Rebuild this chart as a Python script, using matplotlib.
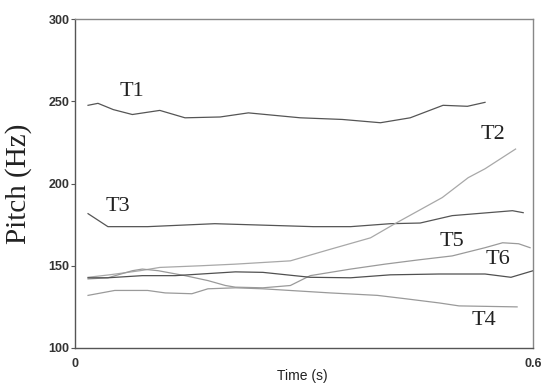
import matplotlib
matplotlib.use("Agg")
import matplotlib.pyplot as plt

# Data (time in s, pitch in Hz)
t1_t = [0.017, 0.030, 0.050, 0.075, 0.111, 0.144, 0.190, 0.227, 0.295, 0.350, 0.400, 0.439, 0.482, 0.514, 0.537]
t1_f = [247.6, 248.8, 245.0, 242.0, 244.5, 240.0, 240.5, 243.0, 240.0, 239.0, 237.0, 240.0, 247.6, 247.0, 249.4]

t3_t = [0.017, 0.043, 0.095, 0.183, 0.312, 0.361, 0.413, 0.452, 0.494, 0.573, 0.587]
t3_f = [181.7, 173.8, 173.8, 175.6, 173.8, 173.8, 175.6, 176.0, 180.5, 183.5, 182.3]

t2_t = [0.017, 0.045, 0.085, 0.111, 0.164, 0.210, 0.282, 0.334, 0.387, 0.419, 0.481, 0.515, 0.537, 0.577]
t2_f = [143.0, 144.5, 147.0, 149.0, 150.0, 151.0, 153.0, 160.0, 167.0, 175.6, 191.5, 203.6, 209.0, 221.0]

t5_t = [0.017, 0.043, 0.075, 0.088, 0.109, 0.144, 0.174, 0.197, 0.210, 0.246, 0.282, 0.308, 0.361, 0.406, 0.450, 0.494, 0.537, 0.560, 0.581, 0.596]
t5_f = [142.0, 142.7, 147.0, 148.0, 147.0, 144.0, 141.0, 138.0, 137.0, 136.6, 138.0, 144.0, 148.0, 151.0, 153.6, 156.0, 161.0, 164.0, 163.4, 161.0]

t6_t = [0.017, 0.043, 0.088, 0.131, 0.210, 0.246, 0.308, 0.361, 0.413, 0.477, 0.537, 0.571, 0.600]
t6_f = [142.7, 142.7, 144.0, 144.0, 146.3, 146.0, 143.0, 142.7, 144.5, 145.0, 145.0, 143.0, 147.0]

t4_t = [0.017, 0.052, 0.095, 0.118, 0.153, 0.174, 0.210, 0.246, 0.334, 0.396, 0.432, 0.477, 0.503, 0.579]
t4_f = [132.0, 135.0, 135.0, 133.5, 133.0, 136.0, 136.6, 136.0, 133.5, 132.0, 130.0, 127.4, 125.6, 125.0]

series = [
    ("T1", t1_t, t1_f, "#555555"),
    ("T3", t3_t, t3_f, "#555555"),
    ("T2", t2_t, t2_f, "#a8a8a8"),
    ("T5", t5_t, t5_f, "#9a9a9a"),
    ("T6", t6_t, t6_f, "#505050"),
    ("T4", t4_t, t4_f, "#9a9a9a"),
]

label_names = ["T1", "T2", "T3", "T4", "T5", "T6"]
label_t = [0.075, 0.547, 0.056, 0.535, 0.494, 0.554]
label_f = [256.0, 229.9, 186.0, 117.0, 164.6, 153.7]

fig = plt.figure(figsize=(5.44, 3.83), dpi=100)
ax = fig.add_axes([0.138, 0.0914, 0.842, 0.8586])

for name, tt, ff, col in series:
    ax.plot(tt, ff, color=col, lw=0.9)

for name, tx, fy in zip(label_names, label_t, label_f):
    ax.text(tx, fy, name, family="Liberation Serif", fontsize=16,
            ha="center", va="center", color="#222222")

ax.set_xlim(0, 0.6)
ax.set_ylim(100, 300)
ax.set_xticks([0, 0.6])
ax.set_xticklabels(["0", "0.6"])
ax.set_yticks([100, 150, 200, 250, 300])
ax.set_yticklabels(["100", "150", "200", "250", "300"])

for lab in ax.get_xticklabels() + ax.get_yticklabels():
    lab.set_family("Liberation Sans")
    lab.set_fontsize(9)
    lab.set_fontweight("bold")
    lab.set_color("#333333")

ax.tick_params(axis="y", direction="out", length=3, width=0.8, pad=1, colors="#555555", labelcolor="#333333")
ax.tick_params(axis="x", direction="out", length=0, pad=7, labelcolor="#333333")

for side in ["left", "bottom"]:
    ax.spines[side].set_color("#555555")
    ax.spines[side].set_linewidth(1.0)
for side in ["top", "right"]:
    ax.spines[side].set_color("#888888")
    ax.spines[side].set_linewidth(1.0)

ax.set_ylabel("Pitch (Hz)", family="Liberation Serif", fontsize=21, color="#222222")
ax.yaxis.set_label_coords(-0.093, 0.5)
ax.set_xlabel("Time (s)", family="Liberation Sans", fontsize=10, color="#222222", va="center")
ax.xaxis.set_label_coords(0.497, -0.086)

fig.savefig("out.png", dpi=100)
